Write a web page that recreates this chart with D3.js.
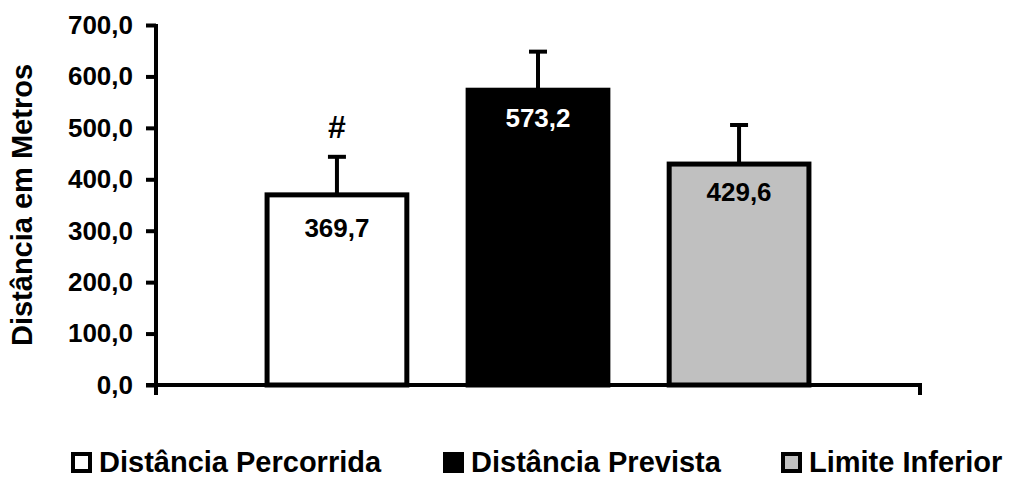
<!DOCTYPE html>
<html>
<head>
<meta charset="UTF-8">
<title>Distância</title>
<script src="https://d3js.org/d3.v7.min.js"></script>
<style>
  body { margin: 0; background: #fff; }
  svg text { font-family: "Liberation Sans", Arial, sans-serif; font-weight: bold; fill: #000; }
</style>
</head>
<body>
<div id="chart"></div>
<script>
var series = ["Distância Percorrida", "Distância Prevista", "Limite Inferior"];
var values = [369.7, 573.2, 429.6];
var errors = [74, 75, 76];
var labels = ["369,7", "573,2", "429,6"];
var marks = ["#", "", ""];
var fills = ["#ffffff", "#000000", "#c0c0c0"];
var labelColors = ["#000", "#fff", "#000"];
var yTicks = [0, 100, 200, 300, 400, 500, 600, 700];

var width = 1013, height = 478;
var plot = {left: 156, right: 920, top: 25, bottom: 385};

var svg = d3.select("#chart").append("svg")
    .attr("width", width)
    .attr("height", height);

var y = d3.scaleLinear().domain([0, 700]).range([plot.bottom, plot.top]);
var x = d3.scaleBand().domain(series).range([plot.left, plot.right])
    .paddingInner(0.28).paddingOuter(0.54);

var fmt = function(d) { return d3.format(".1f")(d).replace(".", ","); };

// bars
svg.selectAll(".bar")
    .data(series)
    .enter().append("rect")
    .attr("x", function(d) { return x(d) + 2.5; })
    .attr("y", function(d, i) { return y(values[i]); })
    .attr("width", x.bandwidth() - 5)
    .attr("height", function(d, i) { return y(0) - y(values[i]); })
    .attr("fill", function(d, i) { return fills[i]; })
    .attr("stroke", "#000")
    .attr("stroke-width", 5);

// error bars
var eb = svg.selectAll(".err").data(series).enter().append("g");
eb.append("line")
    .attr("x1", function(d) { return x(d) + x.bandwidth() / 2; })
    .attr("x2", function(d) { return x(d) + x.bandwidth() / 2; })
    .attr("y1", function(d, i) { return y(values[i]); })
    .attr("y2", function(d, i) { return y(values[i] + errors[i]); })
    .attr("stroke", "#000").attr("stroke-width", 4);
eb.append("line")
    .attr("x1", function(d) { return x(d) + x.bandwidth() / 2 - 9; })
    .attr("x2", function(d) { return x(d) + x.bandwidth() / 2 + 9; })
    .attr("y1", function(d, i) { return y(values[i] + errors[i]); })
    .attr("y2", function(d, i) { return y(values[i] + errors[i]); })
    .attr("stroke", "#000").attr("stroke-width", 4);

// value labels
var labelOffset = [42, 37, 37];
svg.selectAll(".val").data(series).enter().append("text")
    .attr("x", function(d) { return x(d) + x.bandwidth() / 2; })
    .attr("y", function(d, i) { return y(values[i]) + labelOffset[i]; })
    .attr("text-anchor", "middle")
    .style("font-size", "26px")
    .style("fill", function(d, i) { return labelColors[i]; })
    .text(function(d, i) { return labels[i]; });

// significance marks
svg.selectAll(".mark").data(series).enter().append("text")
    .attr("x", function(d) { return x(d) + x.bandwidth() / 2; })
    .attr("y", function(d, i) { return y(values[i] + errors[i]) - 19; })
    .attr("text-anchor", "middle")
    .style("font-size", "32px")
    .text(function(d, i) { return marks[i]; });

// y axis
var yAxis = svg.append("g")
    .attr("transform", "translate(" + plot.left + ",0)")
    .call(d3.axisLeft(y).tickValues(yTicks).tickFormat(fmt).tickSize(10).tickSizeOuter(0));
yAxis.select(".domain").attr("stroke-width", 4)
    .attr("d", "M0," + (plot.bottom + 10) + "V" + (plot.top - 1));
yAxis.selectAll(".tick line").attr("stroke-width", 4);
yAxis.selectAll(".tick text").attr("x", -23).style("font-size", "26px");

// x axis
svg.append("line")
    .attr("x1", plot.left - 10).attr("x2", plot.right + 2)
    .attr("y1", plot.bottom).attr("y2", plot.bottom)
    .attr("stroke", "#000").attr("stroke-width", 4);
svg.append("line")
    .attr("x1", plot.right).attr("x2", plot.right)
    .attr("y1", plot.bottom).attr("y2", plot.bottom + 10)
    .attr("stroke", "#000").attr("stroke-width", 4);

// y title
svg.append("text")
    .attr("transform", "translate(32," + ((plot.top + plot.bottom) / 2) + ") rotate(-90)")
    .attr("text-anchor", "middle")
    .style("font-size", "29px")
    .text("Distância em Metros");

// legend
var legendX = [71, 443, 781];
var lg = svg.selectAll(".leg").data(series).enter().append("g")
    .attr("transform", function(d, i) { return "translate(" + legendX[i] + ",452)"; });
lg.append("rect")
    .attr("x", 2).attr("y", 2).attr("width", 17).attr("height", 17)
    .attr("fill", function(d, i) { return fills[i]; })
    .attr("stroke", "#000").attr("stroke-width", 4);
lg.append("text")
    .attr("x", 28).attr("y", 20)
    .style("font-size", "29px")
    .text(function(d) { return d; });
</script>
</body>
</html>
